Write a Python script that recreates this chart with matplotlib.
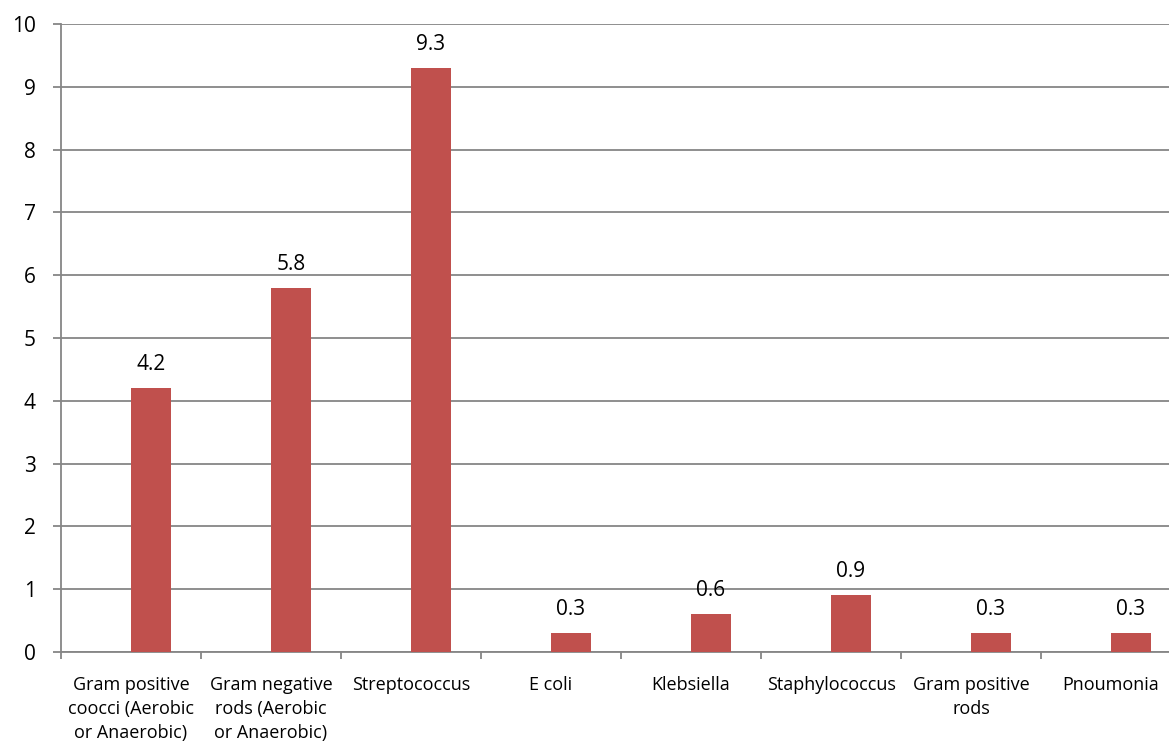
import numpy as np
import matplotlib.pyplot as plt

categories = ['Gram positive\ncoocci (Aerobic\nor Anaerobic)',
              'Gram negative\nrods (Aerobic\nor Anaerobic)',
              'Streptococcus', 'E coli', 'Klebsiella', 'Staphylococcus',
              'Gram positive\nrods', 'Pnoumonia']
values = [4.2, 5.8, 9.3, 0.3, 0.6, 0.9, 0.3, 0.3]

BAR_COLOR = '#C0504D'
GRID_COLOR = '#868686'

plt.rcParams['font.family'] = ['Open Sans', 'DejaVu Sans']

W, H = 1169, 749
fig = plt.figure(figsize=(W / 100, H / 100), dpi=100)
# plot area runs a little past the right edge of the picture
left, right, top, bottom = 61, 1181, 24, 652
ax = fig.add_axes([left / W, 1 - bottom / H, (right - left) / W, (bottom - top) / H])

x = np.arange(len(categories))
bw = 0.2857
# bars sit to the right of the category centre (empty first series in the original)
ax.bar(x, values, width=bw, align='edge', color=BAR_COLOR, zorder=3)
for xi, v in zip(x, values):
    ax.annotate('%.1f' % v, (xi + bw / 2, v), xytext=(0, 13), textcoords='offset points',
                ha='center', va='baseline', fontsize=15, zorder=4)

ax.set_xlim(-0.5, len(categories) - 0.5)
ax.set_ylim(0, 10)
ax.set_yticks(range(0, 11))
ax.yaxis.grid(True, color=GRID_COLOR, linewidth=1.3, zorder=0)
ax.set_axisbelow(True)

ax.set_xticks(np.arange(len(categories) + 1) - 0.5)
ax.set_xticklabels([])
ax.set_xticks(x, minor=True)
ax.set_xticklabels(categories, minor=True, fontsize=13, linespacing=1.45)
ax.tick_params(axis='x', which='major', length=5, width=1.3, color=GRID_COLOR, direction='out')
ax.tick_params(axis='x', which='minor', length=0, pad=17)
ax.tick_params(axis='y', length=6, width=1.3, color=GRID_COLOR, labelsize=15, pad=12)

for s in ['top', 'right']:
    ax.spines[s].set_visible(False)
for s in ['left', 'bottom']:
    ax.spines[s].set_color(GRID_COLOR)
    ax.spines[s].set_linewidth(1.3)

fig.savefig('out.png', dpi=100)
